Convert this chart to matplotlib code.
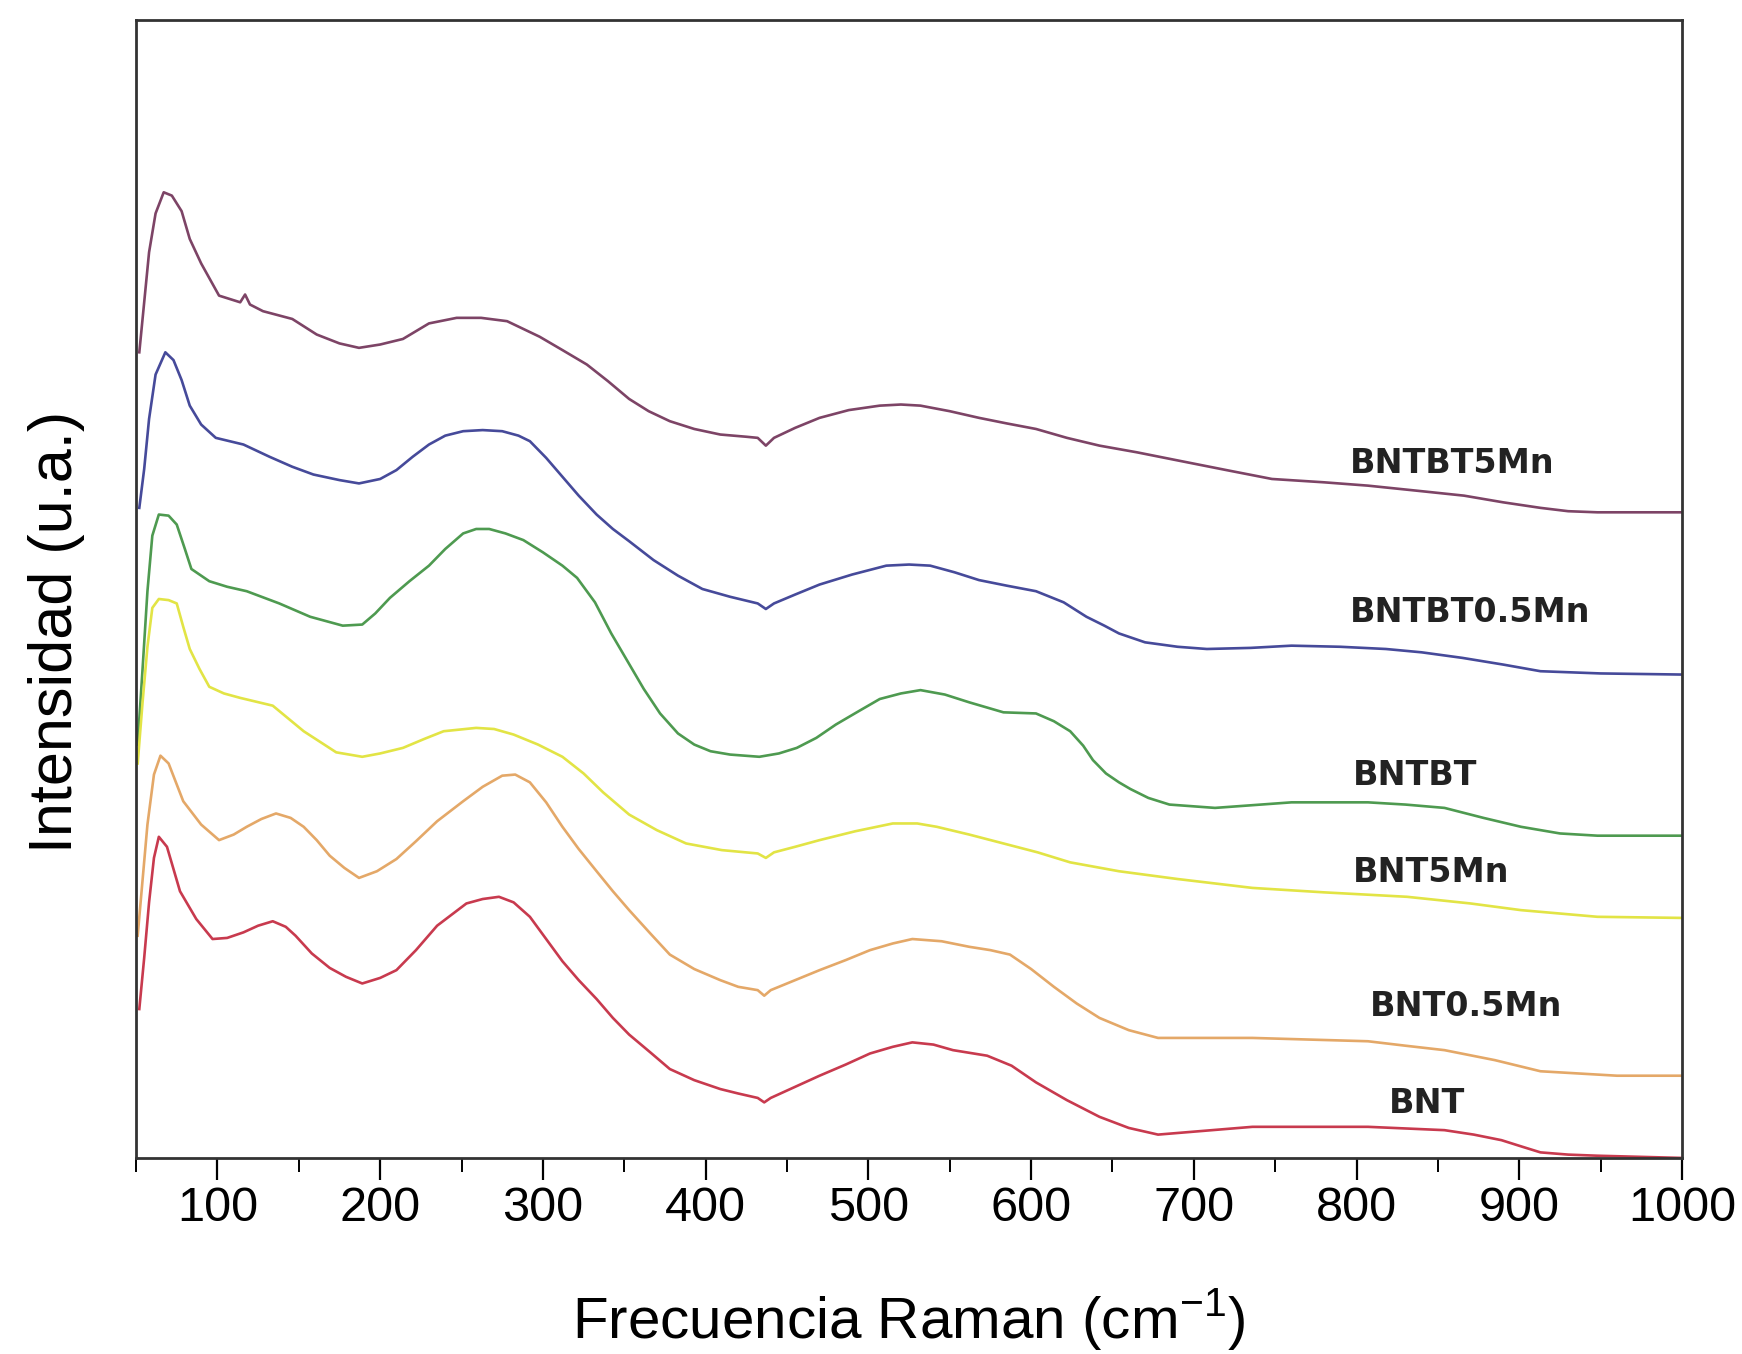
import matplotlib.pyplot as plt
from matplotlib.ticker import MultipleLocator

# Espectros Raman apilados (intensidad en unidades arbitrarias, ya desplazadas)
bntbt5mn_x = [52, 55, 58, 62, 67, 72, 78, 83, 90, 101, 114, 117, 120, 128, 146, 161, 175, 187, 200, 214,
              230, 247, 262, 278, 298, 312, 327, 340, 353, 365, 378, 393, 409, 425, 432, 437, 442, 455, 470, 488,
              507, 520, 532, 550, 568, 585, 603, 622, 642, 665, 689, 720, 748, 780, 807, 840, 866, 890, 913, 930,
              948, 1000]
bntbt5mn_y = [725, 770, 815, 850, 869, 866, 852, 827, 805, 776, 770, 777, 768, 762, 755, 741, 733, 729, 732, 737,
              751, 756, 756, 753, 739, 727, 714, 699, 683, 672, 663, 656, 651, 649, 648, 641, 648, 657, 666, 673,
              677, 678, 677, 672, 666, 661, 656, 648, 641, 635, 628, 619, 611, 608, 605, 600, 596, 590, 585, 582,
              581, 581]

bntbt05mn_x = [52, 55, 58, 62, 68, 73, 78, 83, 90, 99, 116, 132, 146, 159, 175, 187, 200, 210, 220, 230,
               240, 251, 263, 275, 285, 292, 302, 312, 322, 333, 343, 353, 368, 383, 398, 415, 432, 437, 442, 455,
               470, 490, 511, 525, 538, 553, 568, 585, 603, 620, 634, 645, 654, 670, 690, 708, 735, 760, 790, 818,
               840, 865, 890, 913, 950, 1000]
bntbt05mn_y = [585, 620, 665, 705, 725, 718, 700, 677, 660, 648, 642, 631, 622, 615, 610, 607, 611, 619, 631, 642,
               650, 654, 655, 654, 650, 645, 630, 613, 596, 579, 566, 555, 538, 524, 512, 505, 499, 494, 499, 507,
               516, 525, 533, 534, 533, 527, 520, 515, 510, 500, 487, 479, 472, 464, 460, 458, 459, 461, 460, 458,
               455, 450, 444, 438, 436, 435]

bntbt_x = [51, 54, 57, 60, 64, 70, 75, 80, 84, 95, 106, 118, 138, 157, 177, 189, 197, 206, 218, 230,
           240, 251, 259, 267, 277, 288, 300, 312, 321, 332, 342, 352, 362, 372, 383, 393, 403, 415, 433, 445,
           456, 468, 480, 494, 507, 520, 532, 547, 562, 583, 603, 614, 624, 632, 638, 646, 654, 661, 672, 685,
           713, 760, 807, 830, 854, 878, 901, 925, 948, 1000]
bntbt_y = [372, 440, 510, 560, 579, 578, 570, 548, 530, 519, 514, 510, 499, 487, 479, 480, 490, 504, 519, 533,
           548, 562, 566, 566, 562, 556, 545, 533, 522, 500, 472, 447, 422, 400, 382, 372, 366, 363, 361, 364,
           369, 378, 390, 402, 413, 418, 421, 417, 410, 401, 400, 393, 384, 371, 358, 346, 338, 332, 324, 318,
           315, 320, 320, 318, 315, 306, 298, 292, 290, 290]

bnt5mn_x = [51, 54, 57, 60, 64, 70, 75, 79, 83, 89, 95, 104, 114, 134, 153, 173, 189, 200, 214, 227,
            239, 259, 270, 282, 297, 312, 325, 337, 353, 370, 388, 410, 432, 437, 442, 455, 470, 492, 515, 530,
            542, 562, 583, 604, 624, 654, 690, 736, 780, 831, 870, 901, 948, 1000]
bnt5mn_y = [355, 410, 460, 495, 503, 502, 499, 478, 458, 440, 424, 418, 414, 407, 384, 365, 361, 364, 369, 377,
            384, 387, 386, 381, 372, 361, 346, 329, 309, 295, 283, 277, 274, 270, 275, 280, 286, 294, 301, 301,
            298, 291, 283, 275, 266, 258, 251, 243, 239, 235, 229, 223, 217, 216]

bnt05mn_x = [51, 54, 57, 61, 65, 70, 79, 90, 101, 110, 118, 127, 136, 145, 153, 161, 169, 178, 187, 198,
             210, 222, 235, 251, 263, 275, 283, 292, 302, 312, 322, 333, 343, 353, 366, 378, 393, 409, 420, 432,
             436, 440, 455, 470, 486, 501, 515, 527, 545, 562, 575, 587, 600, 614, 628, 642, 660, 678, 736, 807,
             830, 854, 885, 913, 960, 1000]
bnt05mn_y = [200, 250, 300, 345, 362, 355, 321, 300, 286, 291, 298, 305, 310, 306, 298, 286, 272, 261, 252, 258,
             269, 285, 303, 321, 334, 344, 345, 338, 320, 298, 278, 258, 240, 223, 202, 183, 170, 160, 154, 151,
             146, 151, 160, 169, 178, 187, 193, 197, 195, 190, 187, 183, 170, 154, 139, 126, 115, 108, 108, 105,
             101, 97, 88, 78, 74, 74]

bnt_x = [52, 55, 58, 61, 64, 69, 77, 87, 97, 106, 116, 125, 134, 142, 148, 158, 169, 179, 189, 200,
         210, 222, 235, 253, 263, 273, 282, 292, 302, 312, 322, 333, 343, 353, 366, 378, 393, 409, 420, 432,
         436, 440, 455, 470, 486, 501, 515, 527, 540, 552, 573, 588, 603, 622, 642, 660, 678, 736, 807, 854,
         872, 889, 902, 913, 930, 948, 1000]
bnt_y = [134, 180, 230, 270, 289, 280, 240, 215, 197, 198, 203, 209, 213, 208, 200, 184, 171, 163, 157, 162,
         169, 187, 209, 229, 233, 235, 230, 217, 197, 177, 160, 143, 126, 111, 95, 80, 70, 62, 58, 54,
         50, 54, 64, 74, 84, 94, 100, 104, 102, 97, 92, 83, 68, 52, 37, 27, 21, 28, 28, 25,
         21, 16, 10, 5, 3, 2, 0]

nombres = ["BNTBT5Mn", "BNTBT0.5Mn", "BNTBT", "BNT5Mn", "BNT0.5Mn", "BNT"]
etiqueta_x = [796, 796, 798, 798, 808, 820]
etiqueta_y = [625, 491, 344, 257, 136, 49]

series = [(bntbt5mn_x, bntbt5mn_y), (bntbt05mn_x, bntbt05mn_y), (bntbt_x, bntbt_y),
          (bnt5mn_x, bnt5mn_y), (bnt05mn_x, bnt05mn_y), (bnt_x, bnt_y)]
colores = ['#7d4466', '#464a9a', '#4e9a50', '#e2e445', '#e4a868', '#c83a4e']

fig = plt.figure(figsize=(17.42, 13.54), dpi=100)
ax = fig.add_axes([0.0781, 0.1448, 0.8875, 0.8404])

for (x, y), c in zip(series, colores):
    ax.plot(x, y, c=c, lw=1.9, solid_joinstyle='round')

for n, tx, ty in zip(nombres, etiqueta_x, etiqueta_y):
    ax.text(tx, ty, n, ha='left', va='center', fontsize=24, fontweight='bold',
            family='DejaVu Sans', color='#222222')

ax.set_xlim(50, 1000)
ax.set_ylim(0, 1024)
ax.xaxis.set_major_locator(MultipleLocator(100))
ax.xaxis.set_minor_locator(MultipleLocator(50))
ax.tick_params(axis='x', which='major', direction='out', length=16, width=1.6, pad=4)
ax.tick_params(axis='x', which='minor', direction='out', length=10, width=1.4)
ax.set_yticks([])
for lbl in ax.get_xticklabels():
    lbl.set_family('Liberation Sans')
    lbl.set_fontsize(35)
for s in ax.spines.values():
    s.set_linewidth(2.0)
    s.set_color('#333333')

ax.set_xlabel("Frecuencia Raman (cm$^{\\mathregular{-1}}$)", fontsize=42, family='Liberation Sans',
              labelpad=40)
ax.set_ylabel("Intensidad (u.a.)", fontsize=44, family='Liberation Sans')
ax.yaxis.set_label_coords(-0.033, 0.462)

fig.savefig("out.png", dpi=100)
